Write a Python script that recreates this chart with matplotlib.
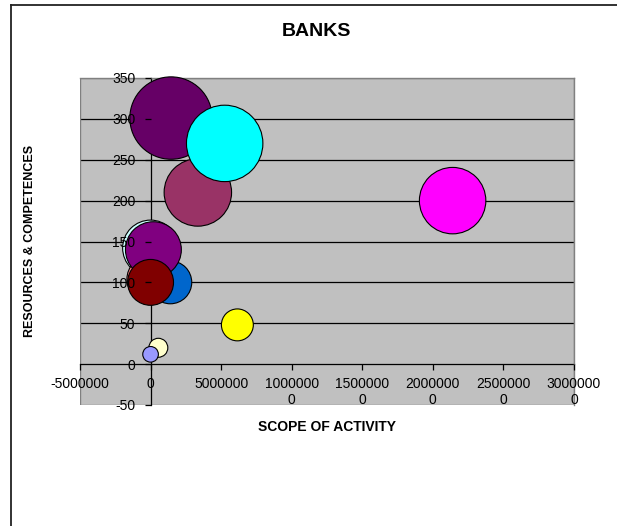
import matplotlib
matplotlib.use('Agg')
import matplotlib.pyplot as plt
from matplotlib.patches import Rectangle
from matplotlib.lines import Line2D

plt.rcParams['font.family'] = ['Liberation Sans', 'DejaVu Sans']

# bubble data (listed in drawing order)
scope = [0.0, -0.05e6, 1.4e6, 3.35e6, 1.45e6, 5.25e6, 21.4e6, 6.15e6, 0.55e6, 0.0, 0.2e6, 0.0]
resources = [142, 104, 100, 210, 301, 270, 200, 48, 20, 12, 140, 100]
bubble_size = [46, 31, 27, 67, 100, 86, 65, 15, 5.3, 3.6, 46, 31]
colors = ['#CCFFFF', '#FF8080', '#0066CC', '#993366', '#660066', '#00FFFF',
          '#FF00FF', '#FFFF00', '#FFFFCC', '#9999FF', '#800080', '#800000']

x_ticks = [-5000000, 0, 5000000, 10000000, 15000000, 20000000, 25000000, 30000000]
x_tick_labels = ['-5000000', '0', '5000000', '1000000\n0', '1500000\n0',
                 '2000000\n0', '2500000\n0', '3000000\n0']
y_ticks = [-50, 0, 50, 100, 150, 200, 250, 300, 350]

fig = plt.figure(figsize=(6.17, 5.26), dpi=100)
ax = fig.add_axes([80 / 617, 1 - 405 / 526, 494 / 617, 327 / 526])
ax.set_facecolor('#C0C0C0')

# chart area border
fig.add_artist(Line2D([11 / 617, 11 / 617], [0, 1 - 5 / 526], color='#222222', lw=1.3))
fig.add_artist(Line2D([11 / 617, 1], [1 - 5 / 526, 1 - 5 / 526], color='#222222', lw=1.3))

# gridlines
for y in y_ticks[2:-1]:
    ax.axhline(y, color='black', lw=0.9, zorder=1)

ax.scatter(scope, resources, s=[v * 35.2 for v in bubble_size], c=colors,
           edgecolors='black', linewidths=0.8, zorder=3, clip_on=False)

ax.set_xlim(-5e6, 3e7)
ax.set_ylim(-50, 350)
ax.set_xticks(x_ticks)
ax.set_xticklabels(x_tick_labels, fontsize=10.5, linespacing=1.4)
ax.set_yticks(y_ticks)
ax.set_yticklabels([str(v) for v in y_ticks], fontsize=10.5)

ax.spines['left'].set_position(('data', 0))
ax.spines['bottom'].set_position(('data', 0))
for s in ['left', 'bottom']:
    ax.spines[s].set_color('black')
    ax.spines[s].set_linewidth(0.9)
    ax.spines[s].set_zorder(2)
for s in ['top', 'right']:
    ax.spines[s].set_color('#808080')
    ax.spines[s].set_linewidth(1.0)
ax.add_patch(Rectangle((0, 0), 1, 1, transform=ax.transAxes, fill=False,
                       edgecolor='#808080', lw=1.0, zorder=2))

ax.tick_params(axis='x', direction='out', length=4, width=0.9, pad=5)
ax.tick_params(axis='y', direction='out', length=4, width=0.9, pad=7)
ax.xaxis.set_zorder(4)
ax.yaxis.set_zorder(4)

fig.text(316 / 617, 1 - 31 / 526, 'BANKS', fontsize=14, fontweight='bold',
         ha='center', va='center')
fig.text(327 / 617, 1 - 427 / 526, 'SCOPE OF ACTIVITY', fontsize=10,
         fontweight='bold', ha='center', va='center')
fig.text(30 / 617, 1 - 241 / 526, 'RESOURCES & COMPETENCES', fontsize=9,
         fontweight='bold', ha='center', va='center', rotation=90)

fig.savefig('out.png', dpi=100)
